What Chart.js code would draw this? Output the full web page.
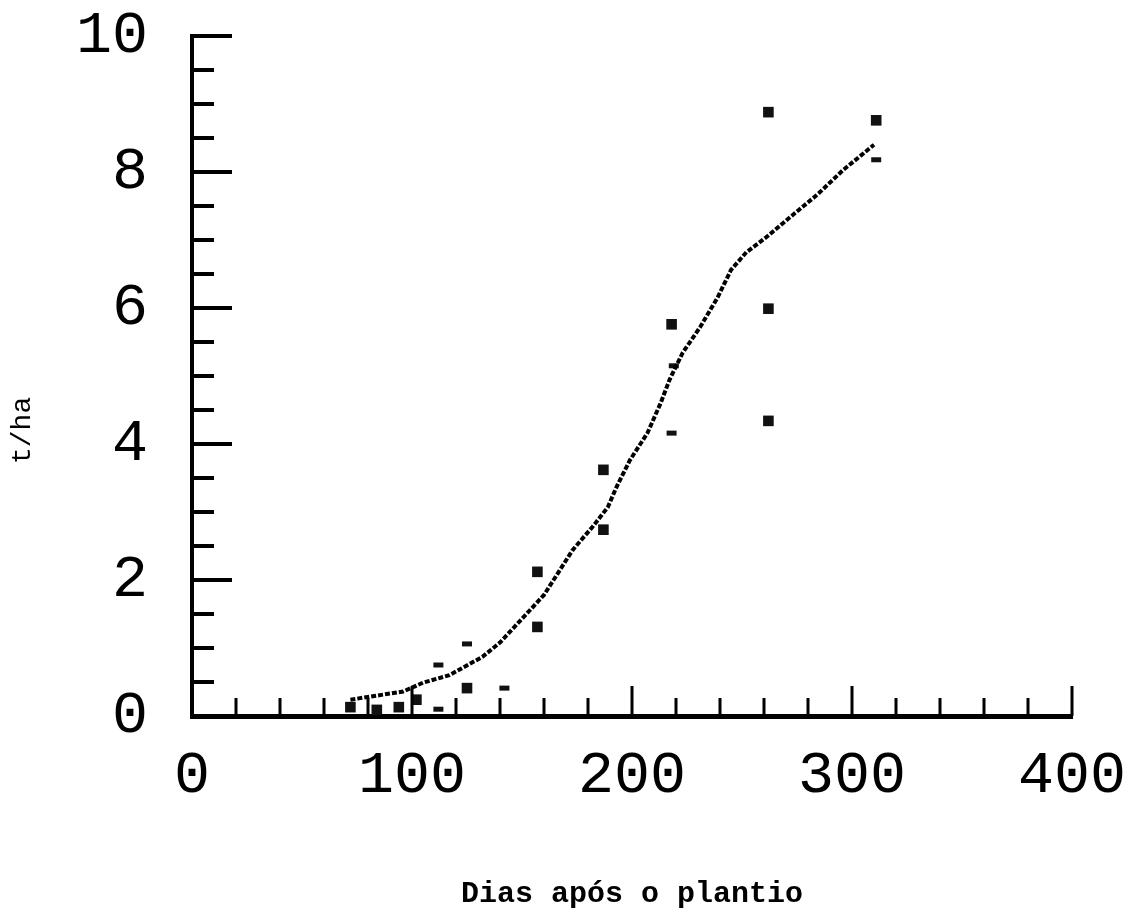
<!DOCTYPE html>
<html>
<head>
<meta charset="utf-8">
<script src="https://cdn.jsdelivr.net/npm/chart.js@4/dist/chart.umd.min.js"></script>
<style>
  html, body { margin: 0; padding: 0; background: #fff; }
  #wrap { width: 1138px; height: 912px; }
</style>
</head>
<body>
<div id="wrap"><canvas id="c"></canvas></div>
<script>
// curva ajustada (t/ha x dias)
const curvaDias = [72, 96, 105, 117, 132, 140, 160, 173, 182, 189, 193, 199, 207, 213, 217, 223, 231, 239, 245, 252, 261, 272, 284, 296, 310];
const curvaTha  = [0.24, 0.36, 0.49, 0.6, 0.87, 1.08, 1.78, 2.44, 2.78, 3.07, 3.37, 3.76, 4.16, 4.6, 4.94, 5.34, 5.72, 6.16, 6.56, 6.82, 7.04, 7.34, 7.66, 8.03, 8.4];

// observações (quadrados)
const obsDias = [311, 262, 262, 262, 218, 187, 187, 157, 157, 125, 102, 84, 72, 94];
const obsTha  = [8.76, 8.88, 5.99, 4.34, 5.76, 3.62, 2.74, 2.12, 1.31, 0.41, 0.24, 0.09, 0.13, 0.13];

// observações menores (traços)
const obs2Dias = [311, 218, 219, 125, 142, 112, 112];
const obs2Tha  = [8.18, 4.16, 5.15, 1.06, 0.41, 0.75, 0.10];

const xTicks = [0, 100, 200, 300, 400];
const yTicks = [0, 2, 4, 6, 8, 10];

const pts = (xs, ys) => xs.map((v, i) => ({ x: v, y: ys[i] }));

// marcas dos eixos voltadas para dentro + titulo do eixo y
const marcas = {
  id: 'marcas',
  afterDraw(chart) {
    const ctx = chart.ctx, sx = chart.scales.x, sy = chart.scales.y;
    const x0 = sx.getPixelForValue(0), y0 = sy.getPixelForValue(0);
    ctx.save();
    ctx.fillStyle = '#000';
    for (let v = 20; v <= 400; v += 20) {
      const px = sx.getPixelForValue(v);
      const len = (v % 100 === 0) ? 30 : 18;
      ctx.fillRect(px - 1.5, y0 - len, 3, len);
    }
    for (let v = 0.5; v <= 10; v += 0.5) {
      const py = sy.getPixelForValue(v);
      const len = (v % 2 === 0) ? 40 : 22;
      ctx.fillRect(x0, py - 2, len, 4);
    }
    // t/ha, um pouco abaixo do centro como no original
    ctx.translate(23, sy.getPixelForValue(4.2));
    ctx.rotate(-Math.PI / 2);
    ctx.font = '28px "Liberation Mono"';
    ctx.textAlign = 'center';
    ctx.textBaseline = 'middle';
    ctx.fillText('t/ha', 0, 0);
    ctx.restore();
  }
};

new Chart(document.getElementById('c'), {
  type: 'scatter',
  data: {
    datasets: [
      {
        type: 'line',
        data: pts(curvaDias, curvaTha),
        borderColor: '#000',
        borderWidth: 4,
        borderDash: [5, 2],
        pointRadius: 0,
        fill: false,
        tension: 0
      },
      {
        data: pts(obsDias, obsTha),
        pointStyle: 'rect',
        pointRadius: 7.5,
        backgroundColor: '#111',
        borderColor: '#111',
        borderWidth: 0
      },
      {
        data: pts(obs2Dias, obs2Tha),
        pointStyle: 'line',
        pointRadius: 5,
        borderColor: '#111',
        borderWidth: 5
      }
    ]
  },
  options: {
    responsive: true,
    maintainAspectRatio: false,
    animation: false,
    layout: { padding: { top: 36, right: 66, left: 0, bottom: 0 } },
    plugins: { legend: { display: false }, tooltip: { enabled: false } },
    scales: {
      x: {
        type: 'linear', min: 0, max: 400,
        afterBuildTicks: s => { s.ticks = xTicks.map(v => ({ value: v })); },
        afterFit: s => { s.height = 196; s.paddingLeft = 0; s.paddingRight = 0; },
        grid: { display: false },
        border: { display: true, color: '#000', width: 5 },
        ticks: { color: '#000', padding: 16, font: { family: 'Liberation Mono', size: 60 } },
        title: {
          display: true, text: 'Dias após o plantio', color: '#000',
          font: { family: 'Liberation Mono', size: 30, weight: 'bold' },
          padding: { top: 0, bottom: 0 }
        }
      },
      y: {
        type: 'linear', min: 0, max: 10,
        afterBuildTicks: s => { s.ticks = yTicks.map(v => ({ value: v })); },
        afterFit: s => { s.width = 192; s.paddingTop = 0; s.paddingBottom = 0; },
        grid: { display: false },
        border: { display: true, color: '#000', width: 4 },
        ticks: { color: '#000', padding: 36, font: { family: 'Liberation Mono', size: 60 } },
        title: { display: false }
      }
    }
  },
  plugins: [marcas]
});
</script>
</body>
</html>
